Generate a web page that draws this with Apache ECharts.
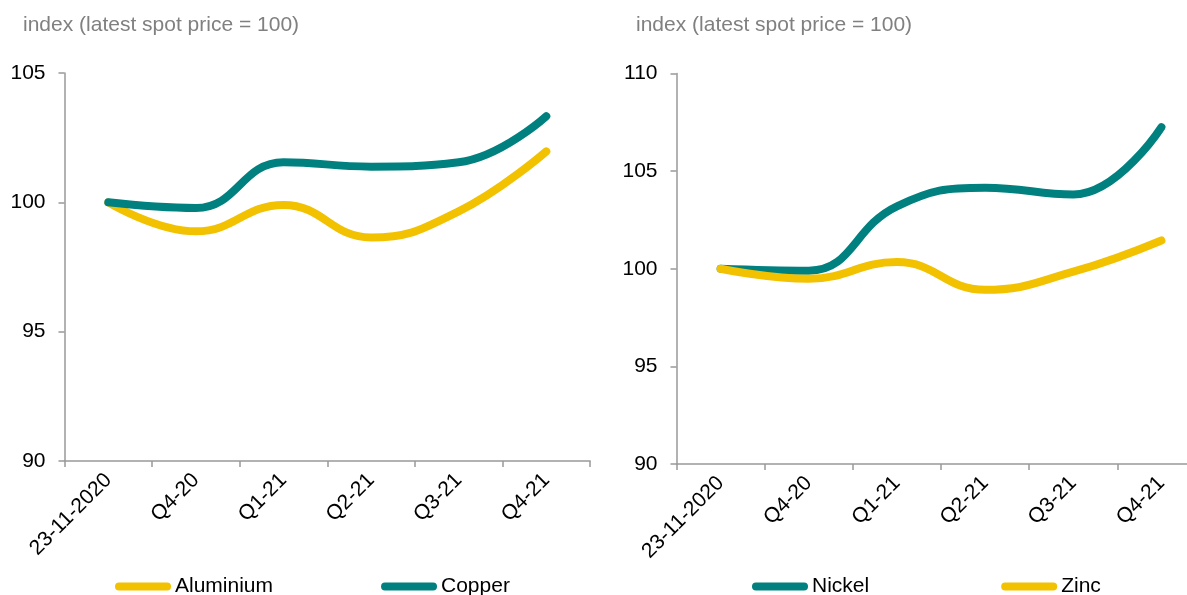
<!DOCTYPE html>
<html>
<head>
<meta charset="utf-8">
<script src="https://cdn.jsdelivr.net/npm/echarts@6/dist/echarts.min.js"></script>
<style>
html,body{margin:0;padding:0;background:#fff;}
#c{width:1187px;height:595px;}
</style>
</head>
<body>
<div id="c"></div>
<script>
// ---- data ----
var categories = ['23-11-2020', 'Q4-20', 'Q1-21', 'Q2-21', 'Q3-21', 'Q4-21'];
var aluminium = [100, 98.88, 99.9, 98.64, 99.65, 101.97];
var copper    = [100, 99.78, 101.55, 101.38, 101.55, 103.33];
var nickel    = [100, 99.9, 103.2, 104.15, 103.8, 107.25];
var zinc      = [100, 99.49, 100.34, 98.92, 99.85, 101.45];
var yTicksLeft  = { min: 90, max: 105, interval: 5 };
var yTicksRight = { min: 90, max: 110, interval: 5 };
var titleText = 'index (latest spot price = 100)';

var YELLOW = '#F2C100';
var TEAL = '#00807F';
var AXIS = '#999999';
var FONT = '"Liberation Sans", Arial, sans-serif';

var chart = echarts.init(document.getElementById('c'), null, { renderer: 'canvas' });

function xAxis(gi) {
  return {
    type: 'category', gridIndex: gi, data: categories, boundaryGap: true,
    axisLine: { lineStyle: { color: AXIS, width: 1.5 } },
    axisTick: { show: true, length: 6, lineStyle: { color: AXIS, width: 1.5 }, alignWithLabel: false },
    axisLabel: { rotate: 45, margin: 16, color: '#000', fontSize: 21, fontFamily: FONT, interval: 0 },
    splitLine: { show: false }
  };
}
function yAxis(gi, t) {
  return {
    type: 'value', gridIndex: gi, min: t.min, max: t.max, interval: t.interval,
    axisLine: { show: true, lineStyle: { color: AXIS, width: 1.5 } },
    axisTick: { show: true, length: 6, lineStyle: { color: AXIS, width: 1.5 } },
    axisLabel: { margin: 19, color: '#000', fontSize: 21, fontFamily: FONT },
    splitLine: { show: false }
  };
}
function lineSeries(name, data, color, gi) {
  return {
    name: name, type: 'line', xAxisIndex: gi, yAxisIndex: gi, data: data,
    smooth: 0.45, symbol: 'none', showSymbol: false,
    lineStyle: { color: color, width: 8, cap: 'round', join: 'round' },
    itemStyle: { color: color },
    animation: false
  };
}
var capsule = 'path://M4,0 L52,0 A4,4 0 0 1 52,8 L4,8 A4,4 0 0 1 4,0 Z';
function legend(names, left, gap) {
  return {
    data: names.map(function (n) { return { name: n, icon: capsule }; }),
    left: left, top: 571, itemWidth: 56, itemHeight: 8, itemGap: gap,
    textStyle: { color: '#000', fontSize: 21, fontFamily: FONT, padding: [0, 0, 0, -1] },
    selectedMode: false
  };
}

chart.setOption({
  animation: false,
  backgroundColor: '#fff',
  title: [
    { text: titleText, left: 18, top: 10, textStyle: { color: '#808080', fontSize: 21, fontWeight: 'normal', fontFamily: FONT } },
    { text: titleText, left: 631, top: 10, textStyle: { color: '#808080', fontSize: 21, fontWeight: 'normal', fontFamily: FONT } }
  ],
  grid: [
    { left: 64.5, top: 73, width: 525.6, height: 388, outerBoundsMode: 'none', containLabel: false },
    { left: 676.5, top: 73.5, width: 529, height: 390.5, outerBoundsMode: 'none', containLabel: false }
  ],
  xAxis: [xAxis(0), xAxis(1)],
  yAxis: [yAxis(0, yTicksLeft), yAxis(1, yTicksRight)],
  legend: [legend(['Aluminium', 'Copper'], 110, 108), legend(['Nickel', 'Zinc'], 747, 132)],
  series: [
    lineSeries('Aluminium', aluminium, YELLOW, 0),
    lineSeries('Copper', copper, TEAL, 0),
    lineSeries('Nickel', nickel, TEAL, 1),
    lineSeries('Zinc', zinc, YELLOW, 1)
  ]
});
</script>
</body>
</html>
